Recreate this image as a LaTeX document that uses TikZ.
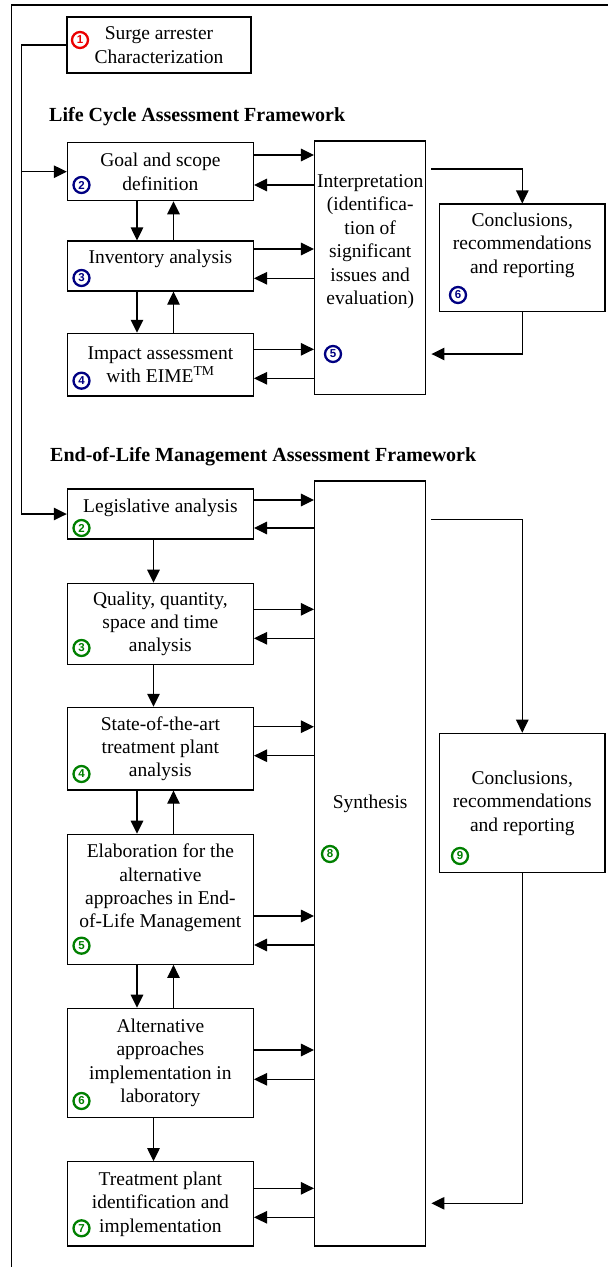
\documentclass[tikz,border=0pt]{standalone}
\usepackage{fontspec}
\setmainfont{Liberation Serif}
\newfontfamily\numfont{Liberation Sans}
\usepackage{tikz}
\usetikzlibrary{arrows.meta,positioning,calc}
\definecolor{numred}{RGB}{235,0,0}
\definecolor{numblue}{RGB}{0,0,130}
\definecolor{numgreen}{RGB}{0,128,0}
\tikzstyle{box} = [rectangle, draw=black, line width=1.2pt, minimum width=186pt, inner sep=0pt, align=center]
\tikzstyle{txt} = [inner sep=0pt, align=center]
\tikzstyle{title} = [anchor=west, inner sep=0pt, font=\fontsize{20}{24}\selectfont\bfseries]
\tikzstyle{arrow} = [line width=1.2pt, -{Triangle[length=13pt,width=12.5pt]}]
\tikzstyle{wire} = [line width=1.2pt]
\tikzset{num/.style={circle, draw=#1, text=#1, fill=white, line width=2.3pt, inner sep=0pt, minimum size=16pt, font=\numfont\bfseries\fontsize{11.5}{11.5}\selectfont}}

\begin{document}
\begin{tikzpicture}[x=1pt, y=-1pt, font=\fontsize{19.5}{23.4}\selectfont]
\useasboundingbox (0,0) rectangle (608,1267);
\draw[wire] (608,5) -- (11.7,5) -- (11.7,1267);

\node[box, minimum width=184pt, minimum height=56pt] (surge) at (159,45) {Surge arrester\\Characterization};
\node[num=numred] (n1) at (80,40) {1};

% Life cycle assessment
\node[title] (lca) at (49,117) {Life Cycle Assessment Framework};
\node[box, minimum height=58pt] (goal) at (160.4,171.7) {Goal and scope\\definition};
\node[box, minimum height=50pt] (inv) at (160.4,266) {};
\node[txt] (inv-t) at (160.4,259) {Inventory analysis};
\node[box, minimum height=62.7pt] (imp) at (160.4,364.7) {Impact assessment\\with EIME\textsuperscript{TM}};
\node[box, minimum width=111.3pt, minimum height=253.3pt] (interp) at (370.2,267.7) {};
\node[txt] (interp-t) at (370.2,241.7) {Interpretation\\(identifica-\\tion of\\significant\\issues and\\evaluation)};
\node[box, minimum width=165.5pt, minimum height=107.7pt] (concl1) at (522.3,257.9) {};
\node[txt] (concl1-t) at (522.3,245) {Conclusions,\\recommendations\\and reporting};
\node[num=numblue] (b2) at (81.5,185) {2};
\node[num=numblue] (b3) at (81.5,278) {3};
\node[num=numblue] (b4) at (81.5,380.7) {4};
\node[num=numblue] (b5) at (333,354) {5};
\node[num=numblue] (b6) at (458,295) {6};

% End-of-life management
\node[title] (eol) at (50,456.7) {End-of-Life Management Assessment Framework};
\node[box, minimum height=50pt] (leg) at (160.4,514) {};
\node[txt] (leg-t) at (160.4,508) {Legislative analysis};
\node[box, minimum height=81pt] (qual) at (160.4,623.8) {Quality, quantity,\\space and time\\analysis};
\node[box, minimum height=82.7pt] (state) at (160.4,748.7) {State-of-the-art\\treatment plant\\analysis};
\node[box, minimum height=130pt] (elab) at (160.4,899.3) {};
\node[txt] (elab-t) at (160.4,888) {Elaboration for the\\alternative\\approaches in End-\\of-Life Management};
\node[box, minimum height=109.4pt] (alt) at (160.4,1063) {Alternative\\approaches\\implementation in\\laboratory};
\node[box, minimum height=84.3pt] (treat) at (160.4,1203.9) {Treatment plant\\identification and\\implementation};
\node[box, minimum width=111.3pt, minimum height=765pt] (synth) at (370.2,863.5) {};
\node[txt] (synth-t) at (370.2,804.3) {Synthesis};
\node[box, minimum width=165.5pt, minimum height=139.4pt] (concl2) at (522.3,803) {Conclusions,\\recommendations\\and reporting};
\node[num=numgreen] (g2) at (81.5,528) {2};
\node[num=numgreen] (g3) at (81.5,648) {3};
\node[num=numgreen] (g4) at (81.5,774) {4};
\node[num=numgreen] (g5) at (81.5,945.7) {5};
\node[num=numgreen] (g6) at (81.5,1101) {6};
\node[num=numgreen] (g7) at (81.5,1228.3) {7};
\node[num=numgreen] (g8) at (330,854) {8};
\node[num=numgreen] (g9) at (460,856) {9};

% feed from the characterization
\coordinate (bus) at (21.5,45);
\draw[arrow] (surge.west) -- (bus) |- (leg.west);
\draw[arrow] (bus |- goal.west) -- (goal.west);

% up and down in the columns
\draw[arrow] ([xshift=-23.4pt]goal.south) -- ([xshift=-23.4pt]inv.north);
\draw[arrow] ([xshift=13.1pt]inv.north) -- ([xshift=13.1pt]goal.south);
\draw[arrow] ([xshift=-23.4pt]inv.south) -- ([xshift=-23.4pt]imp.north);
\draw[arrow] ([xshift=13.1pt]imp.north) -- ([xshift=13.1pt]inv.south);
\draw[arrow] ([xshift=-6.9pt]leg.south) -- ([xshift=-6.9pt]qual.north);
\draw[arrow] ([xshift=-6.9pt]qual.south) -- ([xshift=-6.9pt]state.north);
\draw[arrow] ([xshift=-23.4pt]state.south) -- ([xshift=-23.4pt]elab.north);
\draw[arrow] ([xshift=13.1pt]elab.north) -- ([xshift=13.1pt]state.south);
\draw[arrow] ([xshift=-23.4pt]elab.south) -- ([xshift=-23.4pt]alt.north);
\draw[arrow] ([xshift=13.1pt]alt.north) -- ([xshift=13.1pt]elab.south);
\draw[arrow] ([xshift=-6.9pt]alt.south) -- ([xshift=-6.9pt]treat.north);

% to and from interpretation
\draw[arrow] ([yshift=16.7pt]goal.east) -- ([yshift=16.7pt]goal.east -| interp.west);
\draw[arrow] ([yshift=-13.3pt]goal.east -| interp.west) -- ([yshift=-13.3pt]goal.east);
\draw[arrow] ([yshift=17pt]inv.east) -- ([yshift=17pt]inv.east -| interp.west);
\draw[arrow] ([yshift=-12.3pt]inv.east -| interp.west) -- ([yshift=-12.3pt]inv.east);
\draw[arrow] ([yshift=15.4pt]imp.east) -- ([yshift=15.4pt]imp.east -| interp.west);
\draw[arrow] ([yshift=-13.6pt]imp.east -| interp.west) -- ([yshift=-13.6pt]imp.east);

% to and from synthesis
\draw[arrow] ([yshift=14pt]leg.east) -- ([yshift=14pt]leg.east -| synth.west);
\draw[arrow] ([yshift=-14pt]leg.east -| synth.west) -- ([yshift=-14pt]leg.east);
\draw[arrow] ([yshift=14.5pt]qual.east) -- ([yshift=14.5pt]qual.east -| synth.west);
\draw[arrow] ([yshift=-14.5pt]qual.east -| synth.west) -- ([yshift=-14.5pt]qual.east);
\draw[arrow] ([yshift=22pt]state.east) -- ([yshift=22pt]state.east -| synth.west);
\draw[arrow] ([yshift=-7pt]state.east -| synth.west) -- ([yshift=-7pt]state.east);
\draw[arrow] ([yshift=-16.7pt]elab.east) -- ([yshift=-16.7pt]elab.east -| synth.west);
\draw[arrow] ([yshift=-45.7pt]elab.east -| synth.west) -- ([yshift=-45.7pt]elab.east);
\draw[arrow] ([yshift=13pt]alt.east) -- ([yshift=13pt]alt.east -| synth.west);
\draw[arrow] ([yshift=-16.3pt]alt.east -| synth.west) -- ([yshift=-16.3pt]alt.east);
\draw[arrow] ([yshift=15.6pt]treat.east) -- ([yshift=15.6pt]treat.east -| synth.west);
\draw[arrow] ([yshift=-13.4pt]treat.east -| synth.west) -- ([yshift=-13.4pt]treat.east);

% conclusions loops
\draw[arrow] ([xshift=5pt,yshift=98.7pt]interp.east) -| (concl1.north);
\draw[arrow] (concl1.south) |- ([xshift=5pt,yshift=-86.3pt]interp.east);
\draw[arrow] ([xshift=5pt,yshift=344.2pt]synth.east) -| (concl2.north);
\draw[arrow] (concl2.south) |- ([xshift=5pt,yshift=-339.8pt]synth.east);
\end{tikzpicture}
\end{document}
